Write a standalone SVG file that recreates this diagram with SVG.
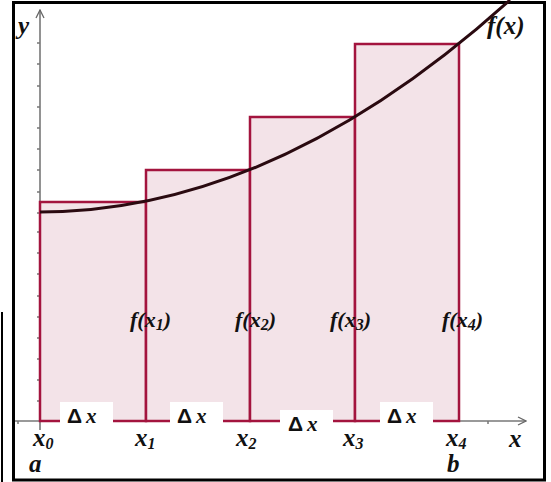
<svg xmlns="http://www.w3.org/2000/svg" width="551" height="482" viewBox="0 0 551 482">
<defs>
<marker id="arr" viewBox="0 0 10 10" refX="9" refY="5" markerWidth="10" markerHeight="10" markerUnits="userSpaceOnUse" orient="auto">
<path d="M1,1 L9,5 L1,9" fill="none" stroke="#666" stroke-width="1.3"/>
</marker>
<style>
.rect{fill:#f3e3e8;stroke:#a3143e;stroke-width:2.5}
.axis{stroke:#777;stroke-width:1.6;fill:none}
.tick{stroke:#777;stroke-width:1.5;fill:none}
.lbl{font-family:'Liberation Serif','DejaVu Serif',serif;font-style:italic;font-weight:bold;fill:#111}
.sub{font-size:16px}
.dx{font-family:'Liberation Serif','DejaVu Serif',serif;font-weight:bold;font-size:21px;fill:#111}
.wbox{fill:#fff}
</style>
</defs>
<rect x="0" y="0" width="551" height="482" fill="#fff"/>
<rect x="13.5" y="2.5" width="531" height="477.5" fill="none" stroke="#000" stroke-width="3"/>
<line x1="2" y1="312" x2="2" y2="482" stroke="#000" stroke-width="2"/>

<g id="axes">
<line class="axis" x1="40" y1="430" x2="40" y2="10" marker-end="url(#arr)"/>
<line class="axis" x1="15" y1="421" x2="526" y2="421" marker-end="url(#arr)"/>
<path class="tick" d="M37,43H40M37,64H40M37,86H40M37,107H40M37,128H40M37,149H40M37,170H40M37,192H40M37,213H40M37,232H40M37,253H40M37,274H40M37,296H40M37,317H40M37,338H40M37,359H40M37,380H40M37,401H40M18,421V424M488,421V424"/>
</g>

<g id="rects">
<rect class="rect" x="40" y="202" width="106" height="219"/>
<rect class="rect" x="146" y="170" width="104" height="251"/>
<rect class="rect" x="250" y="117" width="105" height="304"/>
<rect class="rect" x="355" y="44" width="104" height="377"/>
</g>

<g id="connectors">
<path d="M40,212 Q275,212 510,0" fill="none" stroke="#2a0a10" stroke-width="3"/>
</g>

<g id="dx-labels">
<rect class="wbox" x="60" y="402" width="53" height="26"/>
<rect class="wbox" x="170" y="402" width="53" height="26"/>
<rect class="wbox" x="280" y="410" width="53" height="26"/>
<rect class="wbox" x="380" y="402" width="53" height="26"/>
<g class="dx">
<text x="67" y="423"><tspan font-family="Liberation Sans,sans-serif">Δ</tspan><tspan font-style="italic" dx="4">x</tspan></text>
<text x="177" y="423"><tspan font-family="Liberation Sans,sans-serif">Δ</tspan><tspan font-style="italic" dx="4">x</tspan></text>
<text x="288" y="431"><tspan font-family="Liberation Sans,sans-serif">Δ</tspan><tspan font-style="italic" dx="4">x</tspan></text>
<text x="387" y="423"><tspan font-family="Liberation Sans,sans-serif">Δ</tspan><tspan font-style="italic" dx="4">x</tspan></text>
</g>
</g>

<g id="x-labels" class="lbl" font-size="25">
<text x="33" y="446">x<tspan class="sub" dy="3">0</tspan></text>
<text x="135" y="446">x<tspan class="sub" dy="3">1</tspan></text>
<text x="236" y="446">x<tspan class="sub" dy="3">2</tspan></text>
<text x="343" y="446">x<tspan class="sub" dy="3">3</tspan></text>
<text x="446" y="446">x<tspan class="sub" dy="3">4</tspan></text>
<text x="509" y="447">x</text>
<text x="29" y="472">a</text>
<text x="447" y="472">b</text>
<text x="18" y="34">y</text>
<text x="487" y="34">f(x)</text>
</g>

<g id="f-labels" class="lbl" font-size="22">
<text x="130" y="327">f(x<tspan class="sub" dy="3">1</tspan><tspan dy="-3">)</tspan></text>
<text x="235" y="327">f(x<tspan class="sub" dy="3">2</tspan><tspan dy="-3">)</tspan></text>
<text x="330" y="327">f(x<tspan class="sub" dy="3">3</tspan><tspan dy="-3">)</tspan></text>
<text x="442" y="327">f(x<tspan class="sub" dy="3">4</tspan><tspan dy="-3">)</tspan></text>
</g>
</svg>
